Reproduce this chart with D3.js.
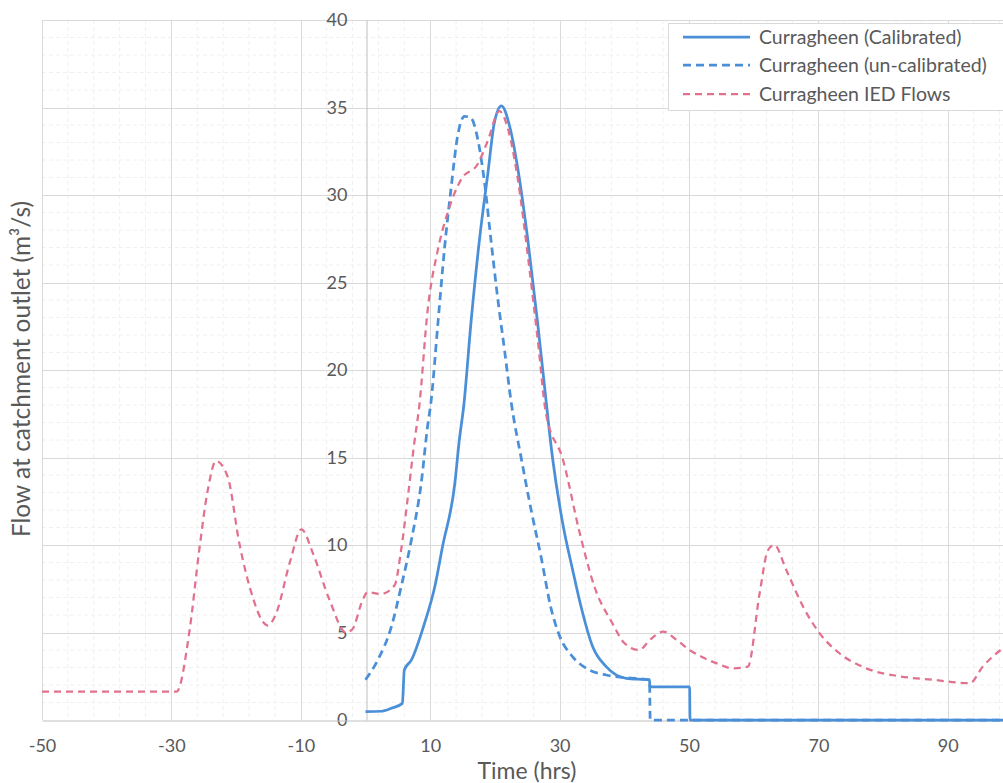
<!DOCTYPE html>
<html>
<head>
<meta charset="utf-8">
<script src="https://cdn.jsdelivr.net/npm/d3@7"></script>
<style>
  html, body { margin: 0; padding: 0; background: #fff; }
  svg { display: block; font-family: Lato, "Open Sans", sans-serif; }
</style>
</head>
<body>
<svg id="chart" width="1003" height="783"></svg>
<script>
// ---- Data ----
const xTicks = [-50, -30, -10, 10, 30, 50, 70, 90];
const yTicks = [0, 5, 10, 15, 20, 25, 30, 35, 40];

const calTime = [0, 2.4, 4.0, 5.7, 6.0, 7.1, 9.1, 10.7, 11.9, 13.8, 14.5, 15.2, 16.3, 17.6, 18.9, 19.9, 21.0, 22.3, 23.5, 25.1, 26.6, 27.6, 28.9, 30.5, 32.0, 33.3, 35.1, 37.2, 40.3, 43.9, 43.95, 50.1, 50.15, 100];
const calFlow = [0.48, 0.5, 0.67, 0.95, 2.86, 3.43, 5.5, 7.6, 9.9, 13.5, 16.0, 18.0, 22.7, 27.4, 31.2, 34.1, 35.1, 33.9, 31.6, 27.4, 22.7, 19.3, 15.0, 11.2, 8.6, 6.5, 4.2, 3.05, 2.38, 2.29, 1.9, 1.9, 0, 0];

const uncalTime = [0, 1.9, 4.0, 5.5, 7.1, 8.6, 9.6, 10.1, 11.2, 12.2, 13.2, 14.3, 15.3, 16.3, 17.4, 18.4, 19.4, 20.4, 21.5, 22.5, 24.1, 25.6, 27.2, 28.6, 30.0, 32.0, 34.6, 37.2, 40.3, 43.9, 44.0, 100];
const uncalFlow = [2.3, 3.43, 5.33, 7.6, 10.3, 13.5, 16.8, 18.1, 22.7, 26.9, 30.3, 33.5, 34.5, 34.4, 33.1, 30.7, 27.4, 24.2, 21.1, 18.2, 14.9, 12.0, 9.2, 6.5, 4.8, 3.62, 2.86, 2.57, 2.42, 2.29, 0, 0];

const iedTime = [-50, -29.2, -27.2, -25.7, -24.4, -23.1, -21.3, -19.5, -17.9, -15.1, -13.8, -11.7, -9.9, -8.1, -5.6, -3.0, -2.0, -0.5, 0.3, 2.4, 4.5, 5.5, 6.5, 7.6, 8.3, 9.6, 11.2, 12.7, 14.8, 17.4, 18.9, 20.7, 22.0, 23.5, 25.1, 26.6, 27.9, 30.5, 33.1, 35.4, 38.2, 40.0, 42.3, 44.0, 46.0, 48.0, 50.1, 52.0, 54.2, 56.8, 59.1, 60.9, 62.2, 63.2, 65.0, 67.6, 70.2, 73.3, 77.4, 82.5, 87.7, 93.4, 95.4, 98.5, 100];
const iedFlow = [1.62, 1.62, 5.1, 9.7, 13.1, 14.8, 13.9, 10.1, 7.6, 5.4, 6.1, 9.0, 10.9, 9.5, 6.9, 5.0, 5.2, 6.8, 7.3, 7.2, 7.7, 9.7, 12.6, 16.0, 17.9, 23.4, 26.9, 29.0, 30.9, 31.8, 33.1, 34.8, 33.8, 31.0, 26.5, 21.8, 17.5, 14.9, 10.7, 7.6, 5.5, 4.4, 4.0, 4.6, 5.05, 4.6, 4.0, 3.6, 3.25, 2.95, 3.05, 7.2, 9.7, 10.0, 8.6, 6.5, 4.95, 3.8, 2.95, 2.5, 2.3, 2.1, 3.05, 4.1, 4.5];

const legendLabels = ["Curragheen (Calibrated)", "Curragheen (un-calibrated)", "Curragheen IED Flows"];
const xTitle = "Time (hrs)";
const yTitle = "Flow at catchment outlet (m³/s)";

// ---- Layout ----
const svg = d3.select("#chart");
const plotLeft = 42, plotTop = 20, plotBottom = 720;
const pxPerUnit = 6.47;
const x = d3.scaleLinear().domain([-50, 100]).range([plotLeft, plotLeft + 150 * pxPerUnit]);
const y = d3.scaleLinear().domain([0, 40]).range([plotBottom, plotTop]);
const plotRight = x(100);

const textColor = "#595959";
const blue = "#4a8fd8";
const pink = "#e2718d";

// minor gridlines
const minorY = d3.range(0, 41, 1).filter(v => v % 5 !== 0);
svg.append("g").selectAll("line").data(minorY).join("line")
  .attr("x1", plotLeft).attr("x2", plotRight)
  .attr("y1", d => y(d)).attr("y2", d => y(d))
  .attr("stroke", "#f0f0f0").attr("stroke-width", 1).attr("stroke-dasharray", "4,3");
const minorX = d3.range(-50, 101, 4).filter(v => (v + 50) % 20 !== 0);
svg.append("g").selectAll("line").data(minorX).join("line")
  .attr("x1", d => x(d)).attr("x2", d => x(d))
  .attr("y1", plotTop).attr("y2", plotBottom)
  .attr("stroke", "#f0f0f0").attr("stroke-width", 1).attr("stroke-dasharray", "4,3");

// major gridlines
svg.append("g").selectAll("line").data(yTicks.filter(d => d !== 0)).join("line")
  .attr("x1", plotLeft).attr("x2", plotRight)
  .attr("y1", d => Math.round(y(d)) + 0.5).attr("y2", d => Math.round(y(d)) + 0.5)
  .attr("stroke", "#d9d9d9");
svg.append("g").selectAll("line").data(d3.range(-50, 101, 20)).join("line")
  .attr("x1", d => Math.round(x(d)) + 0.5).attr("x2", d => Math.round(x(d)) + 0.5)
  .attr("y1", plotTop).attr("y2", plotBottom)
  .attr("stroke", "#d9d9d9");

// axes
const yAxis = svg.append("g")
  .attr("transform", `translate(${Math.round(x(0)) + 0.5},0)`)
  .call(d3.axisLeft(y).tickValues(yTicks).tickSize(0).tickPadding(19).tickFormat(d => String(d)));
yAxis.select(".domain").attr("stroke", "#bfbfbf");
yAxis.selectAll("text").attr("fill", textColor).style("font-size", "18px").style("font-family", "Lato, sans-serif");

const xAxis = svg.append("g")
  .attr("transform", `translate(0,${plotBottom + 0.5})`)
  .call(d3.axisBottom(x).tickValues(xTicks).tickSize(0).tickPadding(19).tickFormat(d => String(d)));
xAxis.select(".domain").attr("stroke", "#bfbfbf");
xAxis.selectAll("text").attr("fill", textColor).style("font-size", "18px").style("font-family", "Lato, sans-serif");

// titles
svg.append("text").attr("x", 527).attr("y", 779).attr("text-anchor", "middle")
  .attr("fill", textColor).style("font-size", "23px").text(xTitle);
svg.append("text").attr("transform", `translate(30,369) rotate(-90)`).attr("text-anchor", "middle")
  .attr("fill", textColor).style("font-size", "24.5px").text(yTitle);

// lines
const mk = (t, v) => t.map((d, i) => [d, v[i]]);
const smooth = d3.line().x(d => x(d[0])).y(d => y(d[1])).curve(d3.curveMonotoneX);

svg.append("path").datum(mk(calTime, calFlow)).attr("d", smooth)
  .attr("fill", "none").attr("stroke", blue).attr("stroke-width", 2.75).attr("stroke-linejoin", "round");
svg.append("path").datum(mk(uncalTime, uncalFlow)).attr("d", smooth)
  .attr("fill", "none").attr("stroke", blue).attr("stroke-width", 2.75).attr("stroke-dasharray", "8,5");
svg.append("path").datum(mk(iedTime, iedFlow)).attr("d", smooth)
  .attr("fill", "none").attr("stroke", pink).attr("stroke-width", 2.25).attr("stroke-dasharray", "7,5");

// legend
const lg = svg.append("g");
lg.append("rect").attr("x", 668.5).attr("y", 23.5).attr("width", 400).attr("height", 87)
  .attr("fill", "#fff").attr("stroke", "#d9d9d9");
const styles = [
  { c: blue, w: 2.75, dash: null },
  { c: blue, w: 2.75, dash: "8,5" },
  { c: pink, w: 2.25, dash: "7,5" }
];
const rowY = [37, 65, 94];
legendLabels.forEach((lab, i) => {
  lg.append("line").attr("x1", 683).attr("x2", 750).attr("y1", rowY[i]).attr("y2", rowY[i])
    .attr("stroke", styles[i].c).attr("stroke-width", styles[i].w)
    .attr("stroke-dasharray", styles[i].dash);
  lg.append("text").attr("x", 759).attr("y", rowY[i]).attr("dy", "0.35em")
    .attr("fill", textColor).style("font-size", "19.5px").text(lab);
});
</script>
</body>
</html>
